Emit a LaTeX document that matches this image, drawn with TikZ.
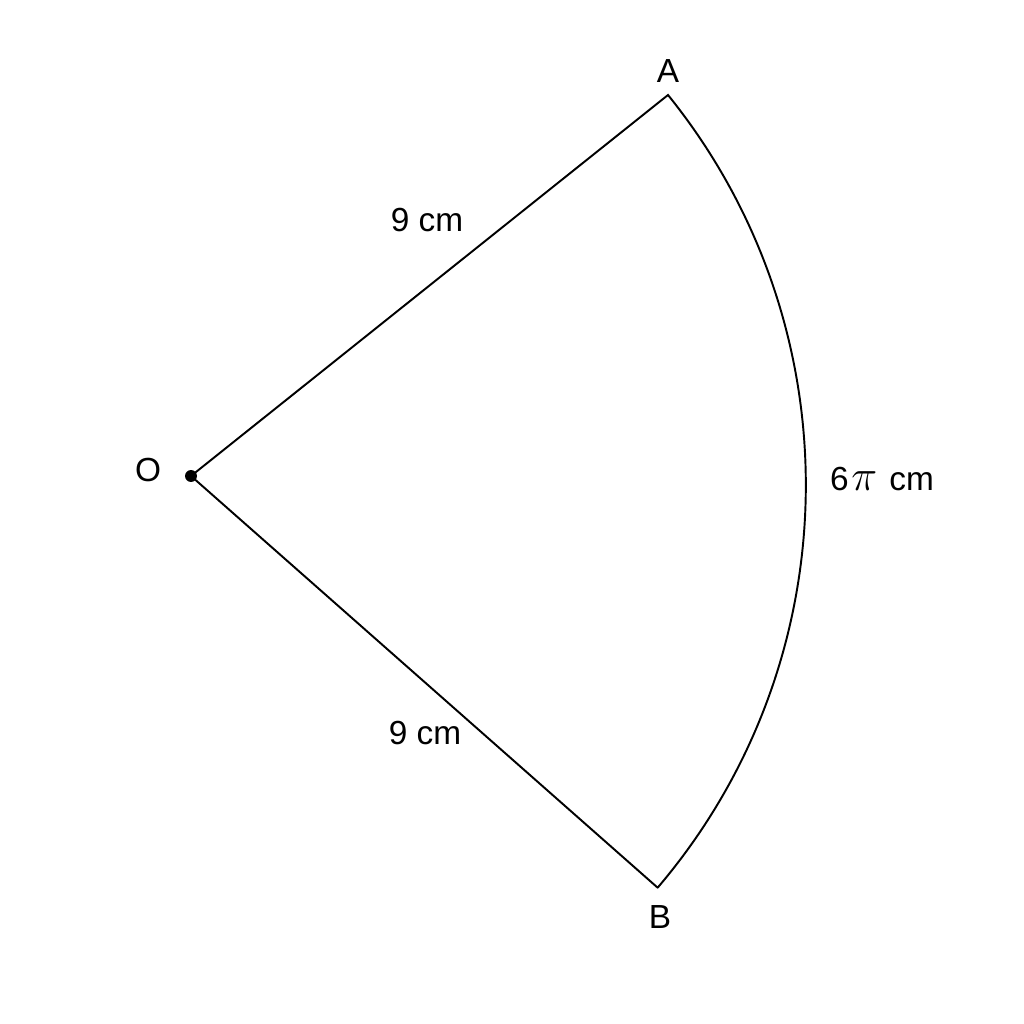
\documentclass[tikz,border=0pt]{standalone}
\usepackage{fontspec}
\setmainfont{Liberation Sans}
\begin{document}
\begin{tikzpicture}[x=0.02cm,y=0.02cm,
  edge/.style={line width=1.1pt,line join=miter},
  lbl/.style={font=\fontsize{19}{22}\selectfont,inner sep=0pt}]
\useasboundingbox (0,0) rectangle (1024,1024);
\coordinate (O) at (191,548);
\coordinate (A) at (668,929);
\coordinate (B) at (658,136);
\draw[edge] (B) -- (O) -- (A) arc[start angle=38.92,end angle=-40.43,radius=621];
\fill (O) circle[radius=3.4pt];
\node[lbl] (lO) at (148,554) {O};
\node[lbl] (lA) at (668,953) {A};
\node[lbl] (lB) at (660,107) {B};
\node[lbl] (lOA) at (427,804) {9 cm};
\node[lbl] (lOB) at (425,291) {9 cm};
\node[lbl] (lAB) at (882,545) {6\hspace{1.5pt}{\fontsize{23}{22}\selectfont$\pi$}\hspace{7pt}cm};
\end{tikzpicture}
\end{document}
